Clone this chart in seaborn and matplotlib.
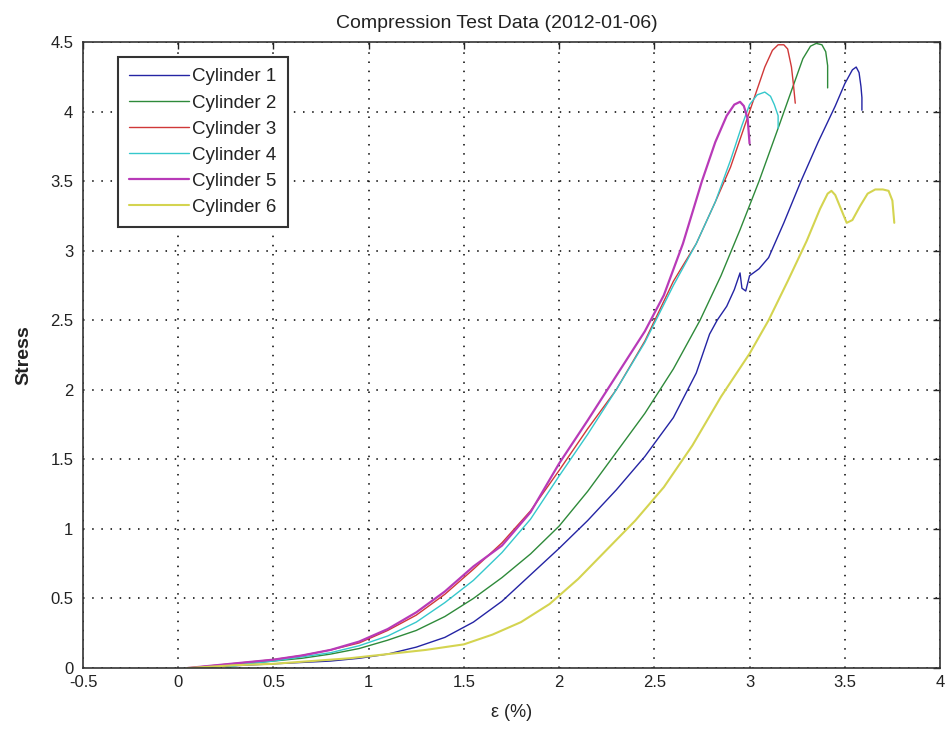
import matplotlib
matplotlib.use("Agg")
import matplotlib.pyplot as plt
import seaborn as sns
from matplotlib.ticker import FormatStrFormatter

# ---- data ----
labels = ["Cylinder 1", "Cylinder 2", "Cylinder 3", "Cylinder 4", "Cylinder 5", "Cylinder 6"]

cyl1_x = [0.05, 0.2, 0.35, 0.5, 0.65, 0.8, 0.95, 1.1, 1.25, 1.4, 1.55, 1.7, 1.85, 2.0, 2.15, 2.3,
          2.45, 2.6, 2.72, 2.79, 2.83, 2.88, 2.92, 2.95, 2.96, 2.98, 3.0, 3.05, 3.1, 3.18, 3.27,
          3.36, 3.45, 3.5, 3.54, 3.56, 3.575, 3.585, 3.59, 3.59]
cyl1_y = [0.0, 0.01, 0.02, 0.03, 0.04, 0.05, 0.07, 0.1, 0.15, 0.22, 0.33, 0.48, 0.67, 0.86, 1.06,
          1.28, 1.52, 1.8, 2.12, 2.4, 2.5, 2.6, 2.72, 2.84, 2.73, 2.71, 2.82, 2.87, 2.95, 3.2, 3.5,
          3.78, 4.04, 4.2, 4.3, 4.32, 4.28, 4.18, 4.1, 4.01]

cyl2_x = [0.05, 0.2, 0.35, 0.5, 0.65, 0.8, 0.95, 1.1, 1.25, 1.4, 1.55, 1.7, 1.85, 2.0, 2.15, 2.3,
          2.45, 2.6, 2.74, 2.85, 2.95, 3.05, 3.15, 3.22, 3.28, 3.32, 3.35, 3.38, 3.4, 3.41, 3.41]
cyl2_y = [0.0, 0.01, 0.03, 0.05, 0.07, 0.1, 0.14, 0.2, 0.27, 0.37, 0.5, 0.65, 0.82, 1.02, 1.27,
          1.55, 1.83, 2.15, 2.5, 2.82, 3.15, 3.5, 3.88, 4.15, 4.38, 4.47, 4.49, 4.48, 4.43, 4.33,
          4.17]

cyl3_x = [0.05, 0.2, 0.35, 0.5, 0.65, 0.8, 0.95, 1.1, 1.25, 1.4, 1.55, 1.7, 1.85, 2.0, 2.15, 2.3,
          2.45, 2.6, 2.72, 2.82, 2.9, 2.97, 3.03, 3.08, 3.12, 3.15, 3.18, 3.2, 3.22, 3.23, 3.24]
cyl3_y = [0.0, 0.02, 0.04, 0.06, 0.09, 0.13, 0.18, 0.27, 0.38, 0.53, 0.71, 0.9, 1.13, 1.42, 1.72,
          2.0, 2.35, 2.78, 3.05, 3.35, 3.6, 3.88, 4.12, 4.32, 4.44, 4.48, 4.48, 4.45, 4.32, 4.2,
          4.06]

cyl4_x = [0.25, 0.35, 0.5, 0.65, 0.8, 0.95, 1.1, 1.25, 1.4, 1.55, 1.7, 1.85, 2.0, 2.15, 2.3, 2.45,
          2.6, 2.72, 2.82, 2.9, 2.96, 3.0, 3.04, 3.08, 3.11, 3.13, 3.15, 3.15]
cyl4_y = [0.0, 0.03, 0.05, 0.08, 0.11, 0.16, 0.23, 0.33, 0.47, 0.63, 0.83, 1.07, 1.38, 1.68, 2.0,
          2.34, 2.75, 3.05, 3.35, 3.65, 3.9, 4.05, 4.12, 4.14, 4.11, 4.05, 3.97, 3.88]

cyl5_x = [0.05, 0.2, 0.35, 0.5, 0.65, 0.8, 0.95, 1.1, 1.25, 1.4, 1.55, 1.7, 1.85, 2.0, 2.15, 2.3,
          2.45, 2.55, 2.65, 2.75, 2.82, 2.88, 2.92, 2.95, 2.97, 2.99, 3.0]
cyl5_y = [0.0, 0.02, 0.04, 0.06, 0.09, 0.13, 0.19, 0.28, 0.4, 0.55, 0.73, 0.88, 1.12, 1.47, 1.78,
          2.1, 2.42, 2.68, 3.05, 3.5, 3.78, 3.97, 4.05, 4.07, 4.04, 3.95, 3.77]

cyl6_x = [0.05, 0.3, 0.5, 0.7, 0.9, 1.1, 1.3, 1.5, 1.65, 1.8, 1.95, 2.1, 2.25, 2.4, 2.55, 2.7, 2.85,
          3.0, 3.1, 3.2, 3.3, 3.37, 3.41, 3.43, 3.45, 3.48, 3.51, 3.54, 3.58, 3.62, 3.66, 3.7,
          3.73, 3.75, 3.76]
cyl6_y = [0.0, 0.02, 0.03, 0.05, 0.07, 0.1, 0.13, 0.17, 0.24, 0.33, 0.46, 0.64, 0.85, 1.06, 1.3,
          1.6, 1.95, 2.26, 2.5, 2.78, 3.07, 3.3, 3.41, 3.43, 3.4, 3.3, 3.2, 3.22, 3.32, 3.41, 3.44,
          3.44, 3.43, 3.36, 3.2]

xs = [cyl1_x, cyl2_x, cyl3_x, cyl4_x, cyl5_x, cyl6_x]
ys = [cyl1_y, cyl2_y, cyl3_y, cyl4_y, cyl5_y, cyl6_y]

colors = ["#2424a4", "#2e8a3a", "#d03838", "#35c8cc", "#b83ab8", "#d4d450"]
widths = [1.0, 1.0, 1.0, 1.0, 1.6, 1.5]

x_ticks = [-0.5, 0, 0.5, 1, 1.5, 2, 2.5, 3, 3.5, 4]
y_ticks = [0, 0.5, 1, 1.5, 2, 2.5, 3, 3.5, 4, 4.5]

# ---- style ----
sns.set_style("white")
plt.rcParams["font.family"] = ["Liberation Sans", "DejaVu Sans"]

fig = plt.figure(figsize=(9.48, 7.32), dpi=100)
ax = fig.add_axes([83 / 948, 64 / 732, 857 / 948, 626 / 732])

for x, y, c, w, lab in zip(xs, ys, colors, widths, labels):
    sns.lineplot(x=x, y=y, ax=ax, color=c, linewidth=w, label=lab,
                 sort=False, estimator=None)

ax.set_xlim(-0.5, 4)
ax.set_ylim(0, 4.5)
ax.set_xticks(x_ticks)
ax.set_yticks(y_ticks)
ax.xaxis.set_major_formatter(FormatStrFormatter("%g"))
ax.yaxis.set_major_formatter(FormatStrFormatter("%g"))
ax.tick_params(direction="in", length=5, width=1, top=True, right=True,
               labelsize=12, colors="#222222")
ax.tick_params(axis="x", pad=5)
ax.tick_params(axis="y", pad=7)

ax.grid(True, linestyle=(0, (1, 5)), color="black", linewidth=1.1)
for s in ax.spines.values():
    s.set_visible(True)
    s.set_color("#333333")
    s.set_linewidth(1.2)

ax.set_title("Compression Test Data (2012-01-06)", fontsize=14, pad=10, color="#222222",
             x=0.483)
ax.set_xlabel("\u03b5 (%)", fontsize=13, labelpad=10, color="#222222")
ax.set_ylabel("Stress", fontsize=14, fontweight="bold", labelpad=13, color="#222222")

leg = ax.legend(loc="upper left", bbox_to_anchor=(0.041, 0.976), borderaxespad=0,
                fontsize=13.5, handlelength=3.2, handletextpad=0.15, labelspacing=0.48,
                frameon=True, fancybox=False, edgecolor="#333333", framealpha=1,
                borderpad=0.6)
leg.get_frame().set_linewidth(1.5)
for t in leg.get_texts():
    t.set_color("#222222")

fig.savefig("out.png", dpi=100)
